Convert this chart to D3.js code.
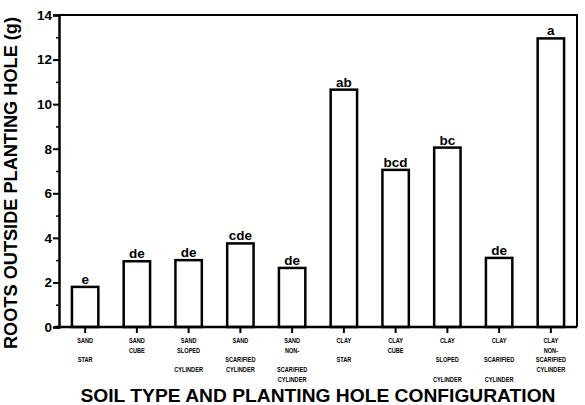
<!DOCTYPE html>
<html lang="en">
<head>
<meta charset="utf-8">
<script src="https://d3js.org/d3.v7.min.js"></script>
<style>
  body { margin: 0; background: #fff; }
  text { font-family: Arial, "Liberation Sans", sans-serif; font-weight: bold; fill: #000; }
</style>
</head>
<body>
<script>
  var width = 585;
  var height = 405;

  // category labels, one array of lines per bar (empty string = blank line)
  var categories = [
    ["SAND", "", "STAR"],
    ["SAND", "CUBE"],
    ["SAND", "SLOPED", "", "CYLINDER"],
    ["SAND", "", "SCARIFIED", "CYLINDER"],
    ["SAND", "NON-", "", "SCARIFIED", "CYLINDER"],
    ["CLAY", "", "STAR"],
    ["CLAY", "CUBE"],
    ["CLAY", "", "SLOPED", "", "CYLINDER"],
    ["CLAY", "", "SCARIFIED", "", "CYLINDER"],
    ["CLAY", "NON-", "SCARIFIED", "CYLINDER"]
  ];
  var values = [1.8, 2.95, 3.0, 3.75, 2.65, 10.65, 7.05, 8.05, 3.1, 12.95];
  var groups = ["e", "de", "de", "cde", "de", "ab", "bcd", "bc", "de", "a"];
  var yTicks = [0, 2, 4, 6, 8, 10, 12, 14];
  var yMinorTicks = [1, 3, 5, 7, 9, 11, 13];

  // plot box (named m_* so they don't clash with window.top)
  var m_left = 59, m_right = 577, m_top = 15, m_bottom = 327;

  var svg = d3.select("body")
              .append("svg")
              .attr("width", width)
              .attr("height", height);

  var x = d3.scaleBand()
            .domain(d3.range(values.length))
            .range([m_left, m_right])
            .paddingInner(0.49)
            .paddingOuter(0.25);

  var y = d3.scaleLinear()
            .domain([0, 14])
            .range([m_bottom, m_top]);

  // bars
  svg.selectAll("rect.bar")
     .data(values)
     .enter()
     .append("rect")
     .attr("class", "bar")
     .attr("x", function (d, i) { return x(i); })
     .attr("y", function (d) { return y(d); })
     .attr("width", x.bandwidth())
     .attr("height", function (d) { return y(0) - y(d); })
     .attr("fill", "#fff")
     .attr("stroke", "#000")
     .attr("stroke-width", 2.5);

  // significance letters
  svg.selectAll("text.grp")
     .data(values)
     .enter()
     .append("text")
     .attr("class", "grp")
     .attr("x", function (d, i) { return x(i) + x.bandwidth() / 2; })
     .attr("y", function (d) { return y(d) - 3; })
     .attr("text-anchor", "middle")
     .style("font-size", "13.5px")
     .text(function (d, i) { return groups[i]; });

  // frame: top and right
  svg.append("path")
     .attr("d", "M" + m_left + "," + m_top + "H" + m_right + "V" + m_bottom)
     .attr("fill", "none")
     .attr("stroke", "#000")
     .attr("stroke-width", 2);

  // y axis
  var yAxis = svg.append("g")
                 .attr("transform", "translate(" + m_left + ",0)")
                 .call(d3.axisLeft(y).tickValues(yTicks).tickSize(6).tickPadding(1).tickFormat(d3.format("d")));
  yAxis.select(".domain").attr("stroke-width", 2.5);
  yAxis.selectAll(".tick line").attr("stroke-width", 2);
  yAxis.selectAll(".tick text")
       .style("font-size", "13.5px")
       .style("font-family", "Arial, 'Liberation Sans', sans-serif")
       .style("font-weight", "bold");

  svg.append("g")
     .attr("transform", "translate(" + m_left + ",0)")
     .call(d3.axisLeft(y).tickValues(yMinorTicks).tickSize(3).tickFormat(""))
     .call(function (g) { g.select(".domain").remove(); })
     .selectAll("line").attr("stroke-width", 1.5);

  // x axis
  var xAxis = svg.append("g")
                 .attr("transform", "translate(0," + m_bottom + ")")
                 .call(d3.axisBottom(x).tickSize(6).tickSizeOuter(0).tickFormat(""));
  xAxis.select(".domain").attr("stroke-width", 2.5).attr("d", "M" + (m_left - 4) + ",0H" + m_right);
  xAxis.selectAll(".tick line").attr("stroke-width", 2);

  // category labels (condensed small text)
  var lineY = [340, 350, 359.5, 369.5, 379];
  categories.forEach(function (lines, i) {
    var cx = x(i) + x.bandwidth() / 2;
    lines.forEach(function (t, j) {
      if (!t) return;
      svg.append("text")
         .attr("transform", "translate(" + cx + "," + (lineY[j] + 2.5) + ") scale(0.85,1)")
         .attr("text-anchor", "middle")
         .style("font-size", "6.6px")
         .text(t);
    });
  });

  // axis titles
  svg.append("text")
     .attr("x", 318)
     .attr("y", 401.5)
     .attr("text-anchor", "middle")
     .attr("textLength", 475)
     .attr("lengthAdjust", "spacingAndGlyphs")
     .style("font-size", "18.5px")
     .text("SOIL TYPE AND PLANTING HOLE CONFIGURATION");

  svg.append("text")
     .attr("transform", "translate(17,183) rotate(-90)")
     .attr("text-anchor", "middle")
     .attr("textLength", 332)
     .attr("lengthAdjust", "spacingAndGlyphs")
     .style("font-size", "18px")
     .text("ROOTS OUTSIDE PLANTING HOLE (g)");
</script>
</body>
</html>
